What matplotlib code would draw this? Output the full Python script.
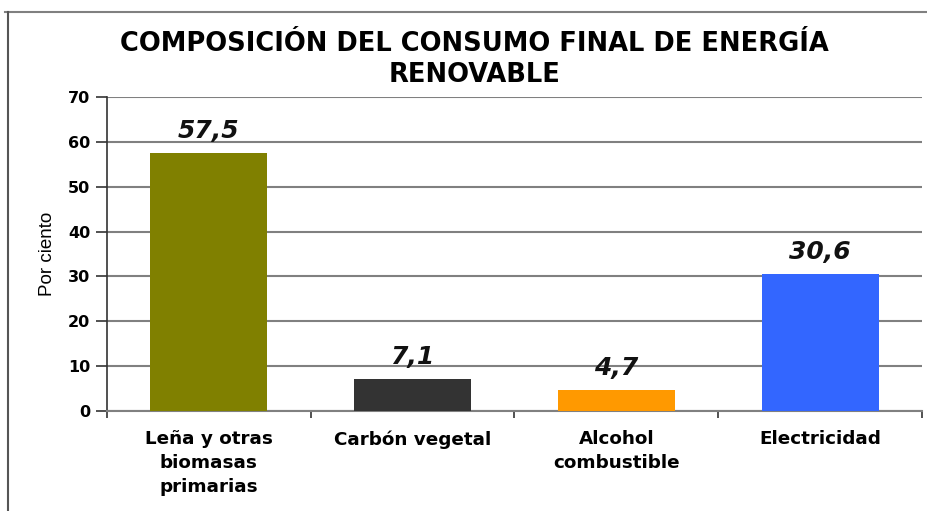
import matplotlib
matplotlib.use("Agg")
import matplotlib.pyplot as plt
from matplotlib.lines import Line2D

categories = ["Leña y otras\nbiomasas\nprimarias", "Carbón vegetal", "Alcohol\ncombustible", "Electricidad"]
values = [57.5, 7.1, 4.7, 30.6]
value_labels = ["57,5", "7,1", "4,7", "30,6"]
colors = ["#808000", "#333333", "#FF9900", "#3366FF"]
yticks = [0, 10, 20, 30, 40, 50, 60, 70]

plt.rcParams['font.family'] = ['DejaVu Sans']

fig = plt.figure(figsize=(9.27, 5.11), dpi=100)
ax = fig.add_axes([0.1154, 0.1957, 0.8792, 0.6145])

x = list(range(len(categories)))
ax.bar(x, values, width=0.575, color=colors, zorder=3)
for xi, v, lab in zip(x, values, value_labels):
    ax.text(xi, v + 2.2, lab, ha='center', va='bottom', fontsize=18,
            fontweight='bold', fontstyle='italic', color='#111111')

ax.set_xlim(-0.5, len(categories) - 0.5)
ax.set_ylim(0, 70)
ax.set_yticks(yticks)
ax.set_yticklabels([str(t) for t in yticks], fontsize=11.5, fontweight='bold')
ax.yaxis.grid(True, color='#808080', linewidth=1.5, zorder=0)
ax.set_axisbelow(True)

ax.set_xticks(x)
ax.set_xticklabels(categories, fontsize=13.2, fontweight='bold', linespacing=1.42)
ax.set_xticks([i - 0.5 for i in range(len(categories) + 1)], minor=True)
ax.tick_params(axis='x', which='major', length=0, pad=14)
ax.tick_params(axis='x', which='minor', length=5, width=1.2, color='#333333')
ax.tick_params(axis='y', length=8, width=1.2, color='#333333', pad=4)

for s in ['top', 'right']:
    ax.spines[s].set_visible(False)
ax.spines['left'].set_color('#333333')
ax.spines['left'].set_linewidth(1.2)
ax.spines['bottom'].set_color('#808080')
ax.spines['bottom'].set_linewidth(1.5)

ax.set_ylabel("Por ciento", fontsize=13.5, family='Liberation Sans', labelpad=9)

fig.text(0.512, 1 - 59/511, "COMPOSICIÓN DEL CONSUMO FINAL DE ENERGÍA\nRENOVABLE",
         ha='center', va='center', fontsize=18.5, fontweight='bold', linespacing=1.25)

# outer frame lines
fig.add_artist(Line2D([0.005, 1.0], [1 - 12/511, 1 - 12/511], color='#808080', linewidth=1.5,
                      transform=fig.transFigure))
fig.add_artist(Line2D([8/927, 8/927], [0, 1 - 12/511], color='#555555', linewidth=1.5,
                      transform=fig.transFigure))

fig.savefig("out.png", dpi=100)
